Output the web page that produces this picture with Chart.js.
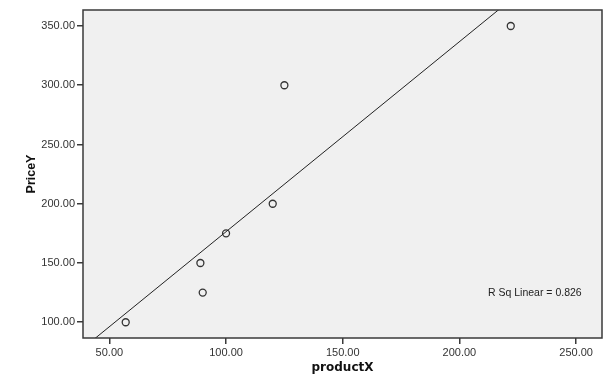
<!DOCTYPE html>
<html>
<head>
<meta charset="utf-8">
<script src="https://cdn.jsdelivr.net/npm/chart.js@4/dist/chart.umd.min.js"></script>
<style>
  html, body { margin: 0; padding: 0; background: #ffffff; }
  #wrap { width: 615px; height: 389px; position: relative; }
</style>
</head>
<body>
<div id="wrap"><canvas id="c" width="615" height="389"></canvas></div>
<script>
// ---- data ----
const productX = [57, 89, 90, 100, 120, 125, 222];
const priceY   = [100, 150, 125, 175, 200, 300, 350];
const xTickValues = [50, 100, 150, 200, 250];
const yTickValues = [100, 150, 200, 250, 300, 350];
const xRange = [38.7, 261.1];
const yRange = [86.7, 363.5];
const rSqLabel = 'R Sq Linear = 0.826';

// least-squares fit line (from the data)
const n = productX.length;
const mx = productX.reduce((a, b) => a + b, 0) / n;
const my = priceY.reduce((a, b) => a + b, 0) / n;
let sxy = 0, sxx = 0;
for (let i = 0; i < n; i++) { sxy += (productX[i] - mx) * (priceY[i] - my); sxx += (productX[i] - mx) ** 2; }
const slope = sxy / sxx;
const intercept = my - slope * mx;
const fitLine = xRange.map(x => ({ x: x, y: intercept + slope * x }));

const scatterPts = productX.map((x, i) => ({ x: x, y: priceY[i] }));

const frameColor = '#3a3a3a';

const framePlugin = {
  id: 'frame',
  beforeDraw(chart) {
    const { ctx, chartArea: a } = chart;
    ctx.save();
    ctx.fillStyle = '#f0f0f0';
    ctx.fillRect(a.left, a.top, a.right - a.left, a.bottom - a.top);
    ctx.restore();
  },
  afterDraw(chart) {
    const { ctx, chartArea: a } = chart;
    ctx.save();
    ctx.strokeStyle = frameColor;
    ctx.lineWidth = 1.5;
    ctx.strokeRect(a.left, a.top, a.right - a.left, a.bottom - a.top);
    // annotation
    ctx.fillStyle = '#222';
    ctx.font = '10.5px "Liberation Sans", Arial, sans-serif';
    ctx.textAlign = 'left';
    ctx.textBaseline = 'middle';
    ctx.fillText(rSqLabel, 488, 293);
    ctx.restore();
  }
};

new Chart(document.getElementById('c'), {
  type: 'scatter',
  data: {
    datasets: [
      {
        type: 'line',
        data: fitLine,
        borderColor: '#222',
        borderWidth: 1,
        pointRadius: 0,
        fill: false,
        tension: 0
      },
      {
        data: scatterPts,
        pointRadius: 3.5,
        pointBorderWidth: 1.3,
        pointBorderColor: '#333',
        pointBackgroundColor: 'rgba(0,0,0,0)'
      }
    ]
  },
  options: {
    responsive: false,
    animation: false,
    devicePixelRatio: 1,
    layout: { padding: { left: 0, right: 13, top: 10, bottom: 0 } },
    plugins: { legend: { display: false }, tooltip: { enabled: false } },
    scales: {
      x: {
        type: 'linear',
        min: xRange[0],
        max: xRange[1],
        afterBuildTicks: s => { s.ticks = xTickValues.map(v => ({ value: v })); },
        afterFit: s => { s.height = 51; },
        grid: { drawOnChartArea: false, drawTicks: true, tickLength: 6, tickColor: frameColor, lineWidth: 1.5 },
        border: { display: false },
        ticks: {
          color: '#333',
          padding: 2,
          maxRotation: 0,
          font: { family: '"Liberation Sans", Arial, sans-serif', size: 11 },
          callback: v => Number(v).toFixed(2)
        },
        title: {
          display: true,
          text: 'productX',
          color: '#111',
          font: { family: '"DejaVu Sans", Verdana, sans-serif', size: 12, weight: 'bold' },
          padding: { top: 4, bottom: 14 }
        }
      },
      y: {
        type: 'linear',
        min: yRange[0],
        max: yRange[1],
        afterBuildTicks: s => { s.ticks = yTickValues.map(v => ({ value: v })); },
        afterFit: s => { s.width = 83; },
        grid: { drawOnChartArea: false, drawTicks: true, tickLength: 6, tickColor: frameColor, lineWidth: 1.5 },
        border: { display: false },
        ticks: {
          color: '#333',
          padding: 2,
          font: { family: '"Liberation Sans", Arial, sans-serif', size: 11 },
          callback: v => Number(v).toFixed(2)
        },
        title: {
          display: true,
          text: 'PriceY',
          color: '#111',
          font: { family: '"Liberation Sans", Arial, sans-serif', size: 12.5, weight: 'bold' },
          padding: { top: 24, bottom: 4 }
        }
      }
    }
  },
  plugins: [framePlugin]
});
</script>
</body>
</html>
